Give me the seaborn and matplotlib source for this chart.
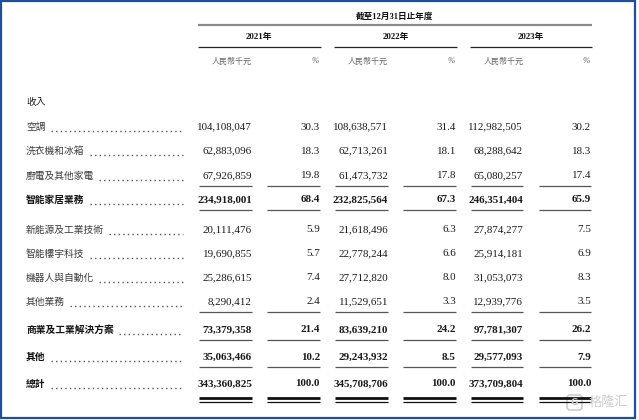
import matplotlib
matplotlib.use("Agg")
import matplotlib.pyplot as plt
import seaborn as sns
from matplotlib.patches import Rectangle, FancyBboxPatch

# ---------------- data ----------------
header = "截至12月31日止年度"
years = ["2021年", "2022年", "2023年"]
unit_amount = "人民幣千元"
unit_pct = "%"
section = "收入"
categories = ["空調", "洗衣機和冰箱", "廚電及其他家電", "智能家居業務",
              "新能源及工業技術", "智能樓宇科技", "機器人與自動化", "其他業務",
              "商業及工業解決方案", "其他", "總計"]
amount_2021 = [104108047, 62883096, 67926859, 234918001, 20111476, 19690855,
               25286615, 8290412, 73379358, 35063466, 343360825]
pct_2021 = [30.3, 18.3, 19.8, 68.4, 5.9, 5.7, 7.4, 2.4, 21.4, 10.2, 100.0]
amount_2022 = [108638571, 62713261, 61473732, 232825564, 21618496, 22778244,
               27712820, 11529651, 83639210, 29243932, 345708706]
pct_2022 = [31.4, 18.1, 17.8, 67.3, 6.3, 6.6, 8.0, 3.3, 24.2, 8.5, 100.0]
amount_2023 = [112982505, 68288642, 65080257, 246351404, 27874277, 25914181,
               31053073, 12939776, 97781307, 29577093, 373709804]
pct_2023 = [30.2, 18.3, 17.4, 65.9, 7.5, 6.9, 8.3, 3.5, 26.2, 7.9, 100.0]
watermark = "格隆汇"

# ---------------- layout / style ----------------
sns.set_theme(style="white")
plt.rcParams["font.family"] = ["Noto Sans CJK TC", "DejaVu Sans"]

CJK = ["Noto Sans CJK TC", "DejaVu Sans"]
NUM = ["Liberation Serif", "Noto Sans CJK TC"]

row_y = [127, 151, 176, 200, 230, 254, 278, 302, 330, 357, 384]
bold_rows = {3, 8, 9, 10}
rule_after = {2: "single", 3: "single", 7: "single", 8: "single", 9: "single", 10: "double"}

amt_right = [252, 388, 523]
pct_right = [320, 456, 591]
amt_left = [199, 335, 471]
pct_left = [267, 403, 539]
year_center = [259, 396, 531]
label_x = 26
dots_end = 183

W, H = 639, 420
fig = plt.figure(figsize=(W / 100, H / 100), dpi=100)
ax = fig.add_axes([0, 0, 1, 1])
ax.set_xlim(0, W)
ax.set_ylim(H, 0)
ax.axis("off")

# border
ax.add_patch(Rectangle((1, 1), 634, 417, fill=False, edgecolor="#1F4E9A", lw=1.6))

# header
ax.text(395, 17, header, family=NUM, fontsize=6.2, fontweight="bold",
        ha="center", va="center", color="#111111")
ax.plot([198, 592], [25, 25], color="#8a8a8a", lw=1.6, solid_capstyle="butt")
for i, yr in enumerate(years):
    ax.text(year_center[i], 37, yr, family=NUM, fontsize=6.3, fontweight="bold",
            ha="center", va="center", color="#111111")
    ax.plot([amt_left[i] - 1, pct_right[i] + 1], [47, 47], color="#222222", lw=0.9,
            solid_capstyle="butt")
    ax.text(amt_left[i] + 13, 61, unit_amount, family=CJK, fontsize=5.8,
            ha="left", va="center", color="#666666", style="italic")
    ax.text(pct_right[i] - 1, 61, unit_pct, family=["Liberation Serif"], fontsize=6.5,
            ha="right", va="center", color="#666666", style="italic")

ax.text(label_x, 102, section, family=CJK, fontsize=7, ha="left", va="center",
        color="#222222")

amounts = [amount_2021, amount_2022, amount_2023]
pcts = [pct_2021, pct_2022, pct_2023]

fig.canvas.draw()
renderer = fig.canvas.get_renderer()
inv = ax.transData.inverted()

for r, cat in enumerate(categories):
    y = row_y[r]
    bold = r in bold_rows
    weight = "bold" if bold else "normal"
    col = "#111111" if bold else "#3c3c3c"
    t = ax.text(label_x, y, cat, family=CJK, fontsize=7, fontweight=weight,
                ha="left", va="center", color=col)
    bb = t.get_window_extent(renderer=renderer)
    x_end = inv.transform((bb.x1, bb.y0))[0]
    ax.plot([x_end + 5, dots_end], [y + 3.5, y + 3.5], color="#555555", lw=1.0,
            linestyle=(0, (1.0, 2.3)), dash_capstyle="butt")
    for i in range(3):
        ax.text(amt_right[i], y, f"{amounts[i][r]:,}", family=NUM, fontsize=7.9,
                fontweight=weight, ha="right", va="center", color="#1a1a1a")
        ax.text(pct_right[i], y, f"{pcts[i][r]:.1f}", family=NUM, fontsize=7.9,
                fontweight=weight, ha="right", va="center", color="#1a1a1a")
    kind = rule_after.get(r)
    if kind:
        for i in range(3):
            for x0, x1 in ((amt_left[i], amt_right[i]), (pct_left[i], pct_right[i])):
                if kind == "single":
                    ax.plot([x0, x1], [y + 9.5, y + 9.5], color="#555555", lw=0.9,
                            solid_capstyle="butt")
                else:
                    ax.plot([x0, x1], [y + 13.5, y + 13.5], color="#111111", lw=2.0,
                            solid_capstyle="butt")
                    ax.plot([x0, x1], [y + 18, y + 18], color="#111111", lw=0.9,
                            solid_capstyle="butt")

# watermark
ax.add_patch(FancyBboxPatch((567, 395), 15, 15, boxstyle="round,pad=0,rounding_size=3",
                            fill=False, edgecolor="#c8c8c8", lw=1.2, alpha=0.9))
ax.text(574.5, 402.5, "G", family=["DejaVu Sans"], fontsize=6.5, fontweight="bold",
        ha="center", va="center", color="#c8c8c8")
ax.text(608, 402, watermark, family=["Noto Sans CJK SC"], fontsize=9.5,
        ha="center", va="center", color="#c8c8c8", alpha=0.9)

fig.savefig("out.png", dpi=100)
